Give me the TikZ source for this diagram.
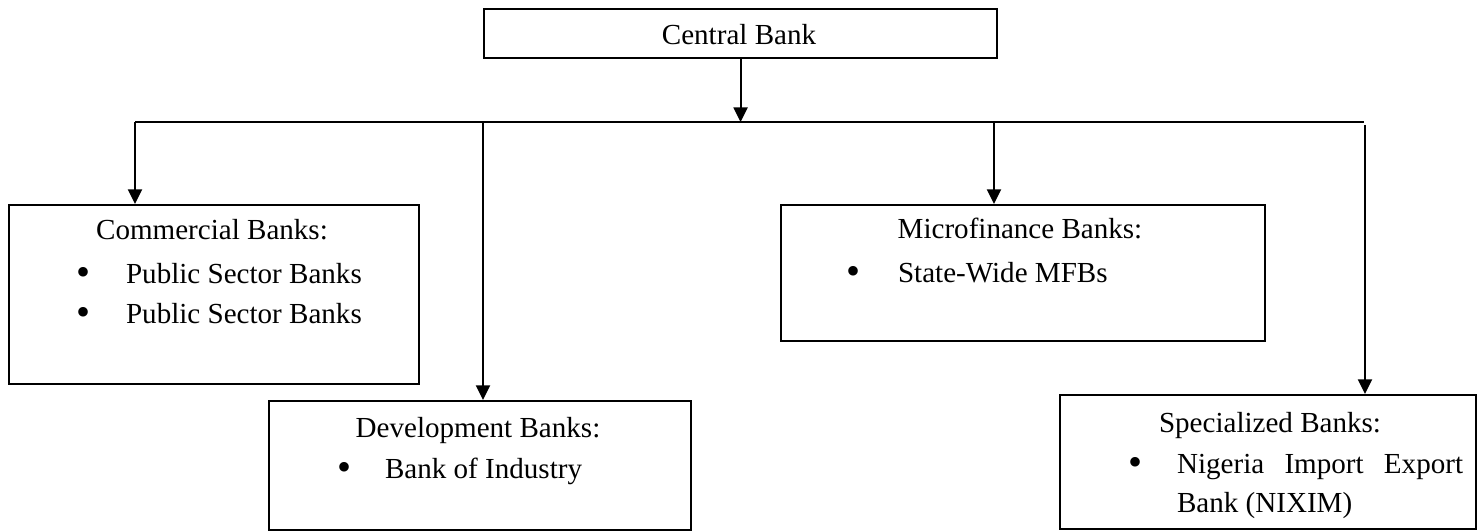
\documentclass[tikz,border=0pt]{standalone}
\usepackage{fontspec}
\setmainfont{Liberation Serif}
\usetikzlibrary{arrows.meta}

\begin{document}
\begin{tikzpicture}[x=0.75pt, y=-0.75pt, line width=1.6pt,
    bankbox/.style={draw, anchor=north west, inner sep=0pt},
    txt/.style={inner sep=0pt, font=\fontsize{21.8}{30}\selectfont},
    head/.style={txt, anchor=base},
    item/.style={txt, anchor=base west},
    dot/.style={inner sep=0pt, anchor=base, font=\fontsize{30}{30}\selectfont},
    >={Triangle[length=11pt, width=10.5pt]}]
    \useasboundingbox (0,0) rectangle (1477,531);

    \node[bankbox, minimum width=384.75pt, minimum height=36.75pt] (cbn) at (483,8) {};
    \node[bankbox, minimum width=307.5pt, minimum height=134.25pt] (cmb) at (8,204) {};
    \node[bankbox, minimum width=316.5pt, minimum height=96.75pt] (dvb) at (268,400) {};
    \node[bankbox, minimum width=363pt, minimum height=102pt] (mfb) at (780,204) {};
    \node[bankbox, minimum width=312pt, minimum height=100.5pt] (spb) at (1059,394) {};

    \node[head] (cbnT) at (739,45) {Central Bank};

    \node[head] (cmbT) at (212,239) {Commercial Banks:};
    \node[dot] (cmbD1) at (84,285) {•};
    \node[item] (cmbI1) at (125,283) {Public Sector Banks};
    \node[dot] (cmbD2) at (84,325) {•};
    \node[item] (cmbI2) at (125,323) {Public Sector Banks};

    \node[head] (dvbT) at (478,437) {Development Banks:};
    \node[dot] (dvbD) at (344,480) {•};
    \node[item] (dvbI) at (384,478) {Bank of Industry};

    \node[head] (mfbT) at (1020,238) {Microfinance Banks:};
    \node[dot] (mfbD) at (853,284) {•};
    \node[item] (mfbI) at (897,282) {State-Wide MFBs};

    \node[head] (spbT) at (1270,432) {Specialized Banks:};
    \node[dot] (spbD) at (1135,475) {•};
    \node[item] (spbI1) at (1176,473) {\makebox[214.5pt][s]{Nigeria Import Export}};
    \node[item] (spbI2) at (1176,512) {Bank (NIXIM)};

    \coordinate (busW) at (135,122);
    \coordinate (busD) at (483,122);
    \coordinate (busM) at (994,122);
    \coordinate (busE) at (1364,122);
    \coordinate (busS) at (1365,125);

    \draw[->] (cbn.south) -- (cbn.south |- busW);
    \draw (busW) -- (busE);
    \draw[->] (busW) -- (busW |- cmb.north);
    \draw[->] (busD) -- (busD |- dvb.north);
    \draw[->] (busM) -- (busM |- mfb.north);
    \draw[->] (busS) -- (busS |- spb.north);
\end{tikzpicture}
\end{document}
